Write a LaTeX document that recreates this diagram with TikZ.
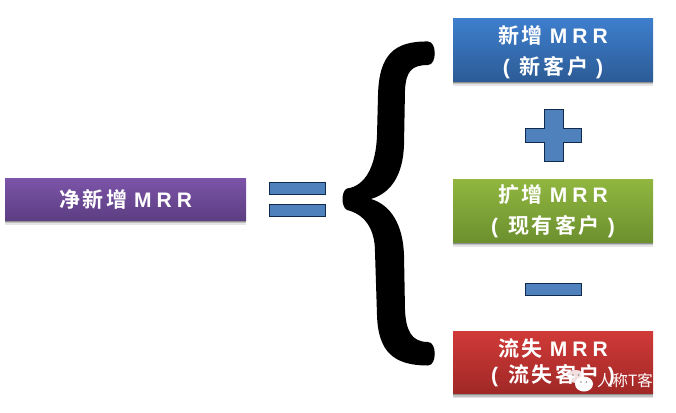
\documentclass[tikz,border=0pt]{standalone}
\usepackage{fontspec}
\newfontfamily\cjk[LetterSpace=12,BoldFont={Noto Sans CJK SC Bold}]{Noto Sans CJK SC}
\newfontfamily\lat[LetterSpace=24,BoldFont={Liberation Sans Bold}]{Liberation Sans}
\newfontfamily\wm{Noto Sans CJK SC}
\newcommand{\mrr}{\hspace{7pt}{\lat MRR}}
\newcommand{\pl}[1]{{\lat(}\hspace{10pt}#1\hspace{8pt}{\lat)}}
\usetikzlibrary{shadows}
\definecolor{opblue}{HTML}{4F81BD}
\definecolor{opedge}{HTML}{0F2A4A}
\tikzset{
  softshadow/.style={
    general shadow={fill=black,opacity=.10,shadow xshift=0pt,shadow yshift=-4.5pt},
    general shadow={fill=black,opacity=.16,shadow xshift=0pt,shadow yshift=-3pt},
    general shadow={fill=black,opacity=.25,shadow xshift=0pt,shadow yshift=-1.5pt}},
  card/.style={rectangle,draw=none,inner sep=0pt,align=center,text=white,minimum width=200pt,minimum height=62.5pt,softshadow,
     font=\cjk\bfseries\fontsize{21pt}{30.5pt}\selectfont},
  opbar/.style={rectangle,draw=opedge,line width=1pt,fill=opblue,inner sep=0pt,minimum width=56pt,minimum height=12pt},
}
\begin{document}
\begin{tikzpicture}[x=1pt,y=-1pt]
\useasboundingbox (0,0) rectangle (676,412);
\fill[white] (0,0) rectangle (676,412);
\node[card,minimum width=241pt,minimum height=42pt,top color={rgb,255:red,124;green,84;blue,168},bottom color={rgb,255:red,92;green,62;blue,130}] (net) at (125.5,199) {净新增\mrr};
\node[opbar] (eqa) at (297.5,188.3) {};
\node[opbar] (eqb) at (297.5,210.4) {};
\fill[black] (428,41.5)
  .. controls (394,41) and (379,55) .. (378,95)
  -- (377,135)
  .. controls (376,165) and (366,186) .. (347,188.5)
  .. controls (341,191) and (341,207) .. (347,210)
  .. controls (364,214) and (375,228) .. (375,252)
  -- (377,315)
  .. controls (378,352) and (394,365.5) .. (428,365.5)
  .. controls (437,365.5) and (437,342) .. (428,342)
  .. controls (411,342) and (406,330) .. (405,310)
  -- (404,255)
  .. controls (403,225) and (391,205) .. (371,199)
  .. controls (391,193) and (403,175) .. (404,145)
  -- (405,90)
  .. controls (406,72) and (411,65) .. (428,65)
  .. controls (437,65) and (437,41.5) .. (428,41.5) -- cycle;
\node[card,top color={rgb,255:red,62;green,126;blue,205},bottom color={rgb,255:red,44;green,92;blue,150}] (new) at (553,50) {\rule{0pt}{22pt}新增\mrr\\\pl{新客户}};
\draw[draw=opedge,line width=1pt,fill=opblue] (544,109) -- (563,109) -- (563,128) -- (581.5,128) -- (581.5,142) -- (563,142) -- (563,161.5) -- (544,161.5) -- (544,142) -- (525.5,142) -- (525.5,128) -- (544,128) -- cycle;
\node[card,top color={rgb,255:red,144;green,182;blue,64},bottom color={rgb,255:red,108;green,144;blue,46}] (exp) at (553,211) {扩增\mrr\\\pl{现有客户}};
\node[opbar] (minus) at (553.5,289) {};
\node[card,top color={rgb,255:red,208;green,58;blue,56},bottom color={rgb,255:red,160;green,40;blue,38}] (churn) at (553,362.5) {流失\mrr\\[-5pt]\pl{流失客户}};
% watermark
\fill[white,opacity=.85] (576,376.5) ellipse (8pt and 6.5pt);
\fill[white] (584,384) ellipse (9pt and 7.5pt);
\fill[black!45] (573,375) circle (.9pt) (578.5,375) circle (.9pt) (581,382) circle (.8pt) (586.5,382) circle (.8pt);
\node[inner sep=0pt,text=white,font=\wm\fontsize{15.5pt}{15.5pt}\selectfont] (mark) at (625,380.7) {人称T客};
\end{tikzpicture}
\end{document}
